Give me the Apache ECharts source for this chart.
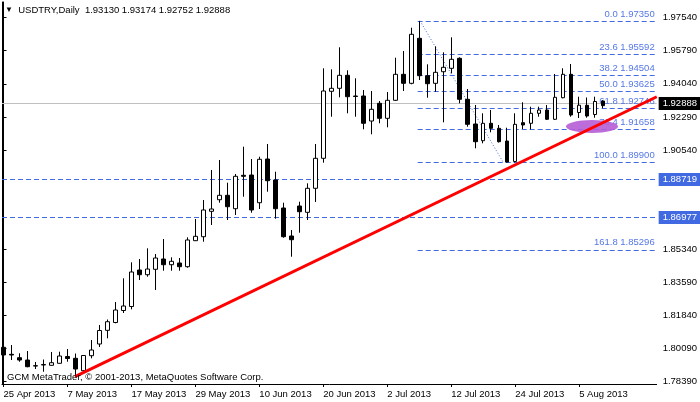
<!DOCTYPE html>
<html><head><meta charset="utf-8">
<script src="https://cdn.jsdelivr.net/npm/echarts@6/dist/echarts.min.js"></script>
<style>html,body{margin:0;padding:0;background:#fff}#c{width:700px;height:402px}</style>
</head><body><div id="c"></div>
<script>
// ---- data ----
const symbolName = 'USDTRY,Daily';
const xTickLabels = ['25 Apr 2013','7 May 2013','17 May 2013','29 May 2013','10 Jun 2013','20 Jun 2013','2 Jul 2013','12 Jul 2013','24 Jul 2013','5 Aug 2013'];
const xTickBars = [0,8,16,24,32,40,48,56,64,72];
const yTickValues = [1.97540,1.95790,1.94040,1.92290,1.90540,1.85340,1.83590,1.81840,1.80090,1.78390];

const open = [1.80162,1.79793,1.79615,1.79493,1.79193,1.79230,1.79214,1.79320,1.79678,1.79583,
  1.78930,1.79720,1.80336,1.81057,1.81468,1.82100,1.82311,1.84233,1.83985,1.84270,
  1.84812,1.84512,1.84601,1.84407,1.85776,1.85986,1.87324,1.87935,1.88167,1.87461,
  1.89220,1.89235,1.87777,1.90078,1.88972,1.87498,1.86023,1.87603,1.87271,1.88535,
  1.90115,1.93643,1.93801,1.94486,1.93396,1.93396,1.92079,1.93011,1.92221,1.93169,
  1.94538,1.94064,1.96434,1.94465,1.94064,1.94675,1.94854,1.95381,1.93222,1.91921,
  1.91042,1.91958,1.91695,1.91026,1.89950,1.91990,1.91958,1.92485,1.92658,1.92169,
  1.93306,1.94538,1.92527,1.92906,1.92421,1.93130];
const high = [1.80283,1.80283,1.79846,1.79967,1.79388,1.79520,1.79915,1.79931,1.80073,1.79836,
  1.79757,1.80547,1.81337,1.81626,1.82548,1.83796,1.84638,1.84812,1.85376,1.85075,
  1.85865,1.84902,1.84865,1.85955,1.86918,1.87919,1.89499,1.90025,1.88830,1.89288,
  1.90726,1.90078,1.90199,1.90868,1.89409,1.87777,1.86339,1.87829,1.88798,1.90868,
  1.94854,1.94802,1.95960,1.94749,1.94328,1.93712,1.93659,1.93132,1.93606,1.95413,
  1.95765,1.96992,1.97350,1.95065,1.96013,1.95697,1.96487,1.95434,1.93764,1.92922,
  1.92485,1.92658,1.91869,1.91726,1.92485,1.93064,1.92832,1.92832,1.92922,1.94554,
  1.94854,1.95081,1.93359,1.93317,1.93359,1.93174];
const low = [1.79651,1.79493,1.79404,1.79109,1.79019,1.78877,1.79204,1.79310,1.79404,1.78614,
  1.78861,1.79583,1.80178,1.80636,1.81426,1.81968,1.82163,1.83706,1.83880,1.83180,
  1.84196,1.84196,1.84196,1.84354,1.85760,1.85723,1.86603,1.87777,1.86866,1.87129,
  1.88093,1.87250,1.87445,1.88356,1.86934,1.85934,1.84933,1.86197,1.86866,1.87814,
  1.89883,1.92306,1.93327,1.92485,1.92306,1.91642,1.91379,1.91958,1.91747,1.93132,
  1.93659,1.94012,1.94238,1.93306,1.93622,1.92011,1.94591,1.93011,1.91779,1.90642,
  1.90905,1.91484,1.90947,1.89900,1.89900,1.91658,1.91632,1.92306,1.92132,1.92132,
  1.93275,1.92306,1.92237,1.92253,1.92253,1.92752];
const close = [1.79757,1.79757,1.79493,1.79141,1.79177,1.79256,1.79351,1.79704,1.79572,1.79019,
  1.79730,1.80020,1.81047,1.81510,1.82126,1.82337,1.84128,1.83985,1.84285,1.84865,
  1.84512,1.84691,1.84407,1.85813,1.86007,1.87393,1.87445,1.88167,1.87566,1.89167,
  1.89167,1.87393,1.90062,1.88935,1.87461,1.85986,1.85828,1.87303,1.88535,1.90115,
  1.93659,1.93801,1.94486,1.93359,1.93369,1.91958,1.92695,1.92221,1.93169,1.94538,
  1.94064,1.96645,1.94465,1.94043,1.94644,1.94907,1.95328,1.93222,1.91905,1.90989,
  1.91958,1.91695,1.90989,1.89920,1.91905,1.91869,1.92485,1.92658,1.92169,1.93327,
  1.94538,1.92395,1.92911,1.92342,1.93106,1.92888];

const fibLevels = [0.0, 23.6, 38.2, 50.0, 61.8, 76.4, 100.0, 161.8];
const fibPrices = [1.97350, 1.95592, 1.94504, 1.93625, 1.92746, 1.91658, 1.89900, 1.85296];
const fibStartBar = 51.8;
const fibSwingBars = [52.1, 62.5];
const fibSwingPrices = [1.97350, 1.89900];
const hLinePrices = [1.88719, 1.86977];
const bidPrice = 1.92888;
const trendBars = [8.94, 81.7];
const trendPrices = [1.78614, 1.93356];
const ellipseBar = 73.6, ellipsePrice = 1.91790;

// ---- chart ----
const FONT = "'Liberation Sans',Arial,sans-serif";
const FS = 9.5;
const xMin = -0.1875, xMax = 81.6875, yMin = 1.7823, yMax = 1.98346;
const BLUE = '#4169E1';
const last = open.length - 1;
const header = symbolName + '  ' + [open[last], high[last], low[last], close[last]].map(v => v.toFixed(5)).join(' ');

const markData = [];
hLinePrices.forEach(p => markData.push({
  yAxis: p,
  lineStyle: {color: BLUE, type: [5, 3], width: 1},
  label: {show: true, position: 'end', distance: 2, formatter: p.toFixed(5), color: '#fff',
          backgroundColor: BLUE, padding: [2, 10, 1, 4], fontSize: FS, fontFamily: FONT}
}));
markData.push({
  yAxis: bidPrice,
  lineStyle: {color: '#c0c0c0', type: 'solid', width: 1},
  label: {show: true, position: 'end', distance: 2, formatter: bidPrice.toFixed(5), color: '#fff',
          backgroundColor: '#000', padding: [2, 10, 1, 4], fontSize: FS, fontFamily: FONT}
});
fibLevels.forEach((lv, k) => markData.push([
  {coord: [fibStartBar, fibPrices[k]],
   lineStyle: {color: BLUE, type: [5, 3], width: 1},
   label: {show: true, position: 'insideEndTop', distance: 2,
           formatter: lv.toFixed(1) + ' ' + fibPrices[k].toFixed(5),
           color: '#5577e6', fontSize: FS, fontFamily: FONT}},
  {coord: [xMax, fibPrices[k]]}
]));
markData.push([
  {coord: [fibSwingBars[0], fibSwingPrices[0]], lineStyle: {color: BLUE, type: [1, 2], width: 1}, label: {show: false}},
  {coord: [fibSwingBars[1], fibSwingPrices[1]]}
]);

const chart = echarts.init(document.getElementById('c'), null, {renderer: 'canvas'});
chart.setOption({
  animation: false,
  backgroundColor: '#fff',
  textStyle: {fontFamily: FONT},
  title: [
    {text: '{t|▼}  ' + header, left: 5, top: 5, padding: 0,
     textStyle: {fontSize: FS, fontWeight: 'normal', color: '#000', fontFamily: FONT,
                 rich: {t: {fontSize: 8, color: '#000'}}}},
    {text: 'GCM MetaTrader, © 2001-2013, MetaQuotes Software Corp.', left: 7, top: 372, padding: 0,
     textStyle: {fontSize: FS, fontWeight: 'normal', color: '#000', fontFamily: FONT}}
  ],
  grid: {left: 2, right: 43, top: 2, bottom: 18, show: false},
  xAxis: {
    type: 'value', min: xMin, max: xMax,
    splitLine: {show: false},
    axisLine: {show: true, onZero: false, lineStyle: {color: '#000', width: 1}},
    axisTick: {show: true, customValues: xTickBars, length: 3, lineStyle: {color: '#000'}},
    axisLabel: {show: true, customValues: xTickBars, align: 'left', margin: 5, color: '#000', fontSize: FS, fontFamily: FONT,
                formatter: v => xTickLabels[xTickBars.indexOf(Math.round(v))] || ''}
  },
  yAxis: [{
    type: 'value', position: 'right', min: yMin, max: yMax, scale: true,
    splitLine: {show: false},
    axisLine: {show: true, lineStyle: {color: '#000', width: 1}},
    axisTick: {show: true, customValues: yTickValues, length: 3, lineStyle: {color: '#000'}},
    axisLabel: {show: true, customValues: yTickValues, margin: 6, color: '#000', fontSize: FS, fontFamily: FONT,
                formatter: v => v.toFixed(5)}
  }, {
    type: 'value', position: 'left', min: yMin, max: yMax, scale: true,
    splitLine: {show: false}, axisTick: {show: false}, axisLabel: {show: false},
    axisLine: {show: true, lineStyle: {color: '#000', width: 1}}
  }],
  series: [
    {
      type: 'candlestick', name: 'USDTRY', barWidth: 4, z: 2,
      data: open.map((o, i) => [i, o, close[i], low[i], high[i]]),
      itemStyle: {color: '#fff', color0: '#000', borderColor: '#000', borderColor0: '#000', borderWidth: 1},
      markLine: {silent: true, z: 1, symbol: ['none', 'none'], animation: false, data: markData}
    },
    {
      type: 'scatter', name: 'ellipse', z: 3, silent: true,
      data: [[ellipseBar, ellipsePrice]],
      symbol: 'circle', symbolSize: [52, 13],
      itemStyle: {color: '#b65dd5', opacity: 0.9}
    },
    {
      type: 'line', name: 'trend', z: 4, silent: true, showSymbol: false, symbol: 'none',
      data: trendBars.map((b, i) => [b, trendPrices[i]]),
      lineStyle: {color: '#ff0000', width: 3}
    }
  ]
});
</script></body></html>
